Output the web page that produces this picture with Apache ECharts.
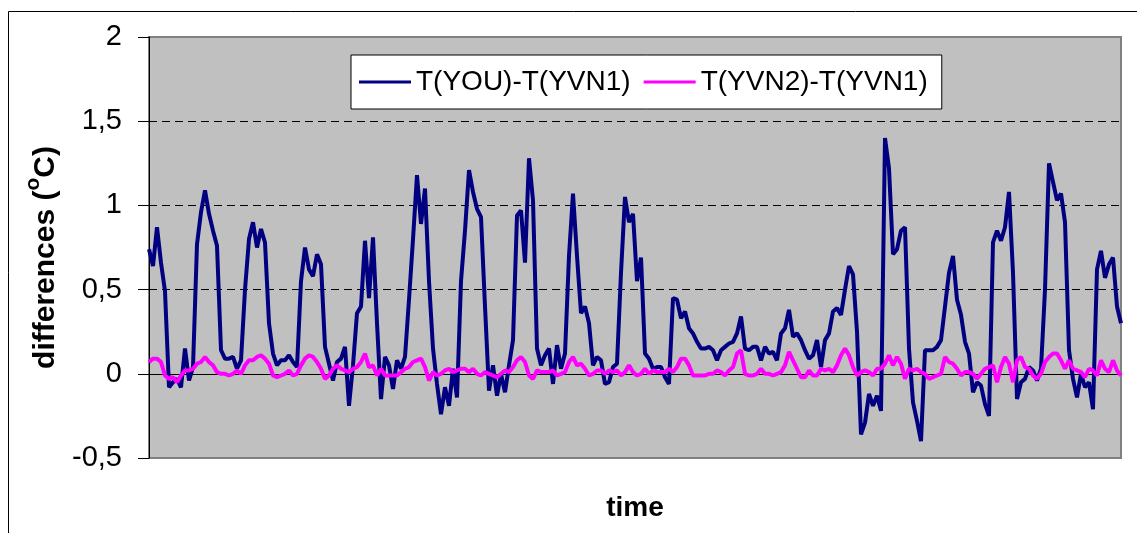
<!DOCTYPE html>
<html>
<head>
<meta charset="utf-8">
<script src="https://cdn.jsdelivr.net/npm/echarts@6/dist/echarts.min.js"></script>
<style>
  html, body { margin: 0; padding: 0; background: #fff; }
  #main { width: 1137px; height: 533px; }
</style>
</head>
<body>
<div id="main"></div>
<script>
// T(YOU)-T(YVN1), sampled along the time axis
var youMinusYvn1 = [
    0.74, 0.64, 0.87, 0.66, 0.49, -0.08, -0.05, -0.03, -0.08, 0.15, -0.04, 0.04, 0.77, 0.96, 1.09, 0.95,
    0.85, 0.76, 0.14, 0.09, 0.09, 0.10, 0.03, 0.08, 0.50, 0.80, 0.90, 0.75, 0.86, 0.78, 0.30,
    0.12, 0.05, 0.08, 0.08, 0.11, 0.07, 0.04, 0.55, 0.75, 0.62, 0.58, 0.71, 0.65, 0.16, 0.06, -0.04,
    0.07, 0.09, 0.16, -0.19, 0.05, 0.36, 0.40, 0.79, 0.45, 0.81, 0.30, -0.15, 0.10, 0.05, -0.09,
    0.08, 0.03, 0.10, 0.44, 0.80, 1.18, 0.89, 1.10, 0.55, 0.15, -0.06, -0.24, -0.08, -0.19, 0.03, -0.14,
    0.55, 0.85, 1.21, 1.08, 0.98, 0.93, 0.40, -0.10, 0.05, -0.13, 0.00, -0.11, 0.05, 0.20, 0.94,
    0.97, 0.66, 1.28, 1.03, 0.15, 0.05, 0.11, 0.15, -0.06, 0.17, 0.03, 0.12, 0.70, 1.07, 0.70, 0.36,
    0.40, 0.30, 0.05, 0.10, 0.08, -0.06, -0.05, 0.04, 0.06, 0.60, 1.05, 0.90, 0.95, 0.55, 0.69, 0.12,
    0.09, 0.03, 0.04, 0.04, -0.02, -0.06, 0.45, 0.44, 0.33, 0.37, 0.27, 0.24, 0.19, 0.15, 0.15, 0.16,
    0.14, 0.08, 0.14, 0.16, 0.18, 0.19, 0.24, 0.34, 0.15, 0.14, 0.16, 0.16, 0.08, 0.16, 0.12,
    0.13, 0.08, 0.24, 0.27, 0.38, 0.22, 0.24, 0.20, 0.14, 0.09, 0.11, 0.20, 0.04, 0.20, 0.24, 0.37,
    0.39, 0.35, 0.50, 0.64, 0.59, 0.25, -0.36, -0.29, -0.12, -0.19, -0.13, -0.22, 1.40, 1.22, 0.71,
    0.74, 0.85, 0.87, 0.15, -0.17, -0.28, -0.40, 0.14, 0.14, 0.14, 0.16, 0.20, 0.40, 0.60, 0.70, 0.44,
    0.35, 0.19, 0.12, -0.11, -0.05, -0.07, -0.18, -0.25, 0.78, 0.85, 0.79, 0.87, 1.08, 0.60, -0.15,
    -0.05, -0.03, 0.04, 0.02, -0.04, 0.03, 0.50, 1.25, 1.14, 1.03, 1.07, 0.90, 0.14, -0.03, -0.14, 0.00,
    -0.08, -0.05, -0.21, 0.62, 0.73, 0.57, 0.65, 0.69, 0.40, 0.30
];

// T(YVN2)-T(YVN1)
var yvn2MinusYvn1 = [
    0.07, 0.09, 0.09, 0.07, -0.01, -0.03, -0.02, -0.05, -0.01, 0.02, 0.02, 0.03, 0.06, 0.07, 0.10, 0.07,
    0.05, 0.01, 0.00, 0.00, -0.01, 0.00, 0.02, 0.00, 0.05, 0.08, 0.08, 0.10, 0.11, 0.09, 0.06,
    -0.01, -0.02, -0.01, 0.00, 0.02, -0.01, 0.00, 0.05, 0.09, 0.11, 0.10, 0.07, 0.03, -0.03, -0.01, 0.03,
    0.05, 0.03, 0.02, 0.01, 0.03, 0.04, 0.07, 0.12, 0.04, 0.05, -0.01, 0.03, -0.01, -0.01, -0.01,
    -0.01, 0.01, 0.03, 0.04, 0.07, 0.08, 0.09, 0.04, -0.04, 0.01, -0.01, 0.00, 0.02, 0.03, 0.01, 0.02,
    0.03, 0.03, 0.01, 0.03, 0.00, -0.01, 0.01, 0.00, -0.01, -0.02, 0.00, 0.02, 0.01, 0.04, 0.08,
    0.10, 0.07, -0.01, -0.03, 0.02, 0.01, 0.01, 0.01, 0.02, -0.01, 0.00, 0.01, 0.07, 0.10, 0.05, 0.06,
    0.03, -0.01, 0.00, 0.02, 0.02, 0.00, 0.02, 0.01, 0.02, -0.01, 0.01, 0.05, 0.01, -0.01, 0.00, 0.03,
    0.00, 0.02, 0.01, 0.01, 0.01, 0.03, 0.01, 0.04, 0.09, 0.09, 0.05, -0.01, -0.01, -0.01, -0.01, 0.00,
    0.00, 0.02, 0.01, -0.01, 0.02, 0.04, 0.12, 0.14, 0.00, -0.01, -0.01, 0.00, 0.03, 0.00, 0.00,
    -0.01, 0.00, 0.01, 0.05, 0.13, 0.08, 0.03, -0.02, -0.02, 0.02, -0.01, -0.01, 0.03, 0.02, 0.03, 0.01,
    0.05, 0.11, 0.15, 0.11, 0.04, -0.01, 0.01, 0.02, 0.01, -0.01, 0.03, 0.03, 0.06, 0.11, 0.05,
    0.10, 0.06, -0.03, 0.03, 0.02, 0.03, 0.01, 0.00, -0.03, -0.02, -0.01, 0.00, 0.10, 0.07, 0.06, 0.03,
    -0.01, 0.01, 0.01, 0.00, -0.03, 0.00, 0.03, 0.04, 0.05, -0.05, 0.04, 0.10, 0.06, -0.05, 0.08,
    0.10, 0.04, 0.03, -0.01, -0.03, 0.00, 0.07, 0.10, 0.12, 0.12, 0.08, 0.03, 0.08, 0.03, 0.02, 0.01,
    -0.02, 0.03, 0.02, -0.01, 0.08, 0.03, 0.01, 0.08, 0.02, -0.01
];

var seriesNames = ['T(YOU)-T(YVN1)', 'T(YVN2)-T(YVN1)'];
var yTicks = [-0.5, 0, 0.5, 1, 1.5, 2];

var timeSteps = [];
for (var i = 0; i < youMinusYvn1.length; i++) {
    timeSteps.push(String(i + 1));
}

var font = '"Liberation Sans", Arial, sans-serif';

var myChart = echarts.init(document.getElementById('main'));
var option = {
    backgroundColor: '#fff',
    animation: false,
    graphic: [{
        type: 'rect',
        shape: { x: 8.5, y: 11.5, width: 1140, height: 540 },
        style: { fill: 'none', stroke: '#000', lineWidth: 1 },
        silent: true
    }],
    legend: {
        data: seriesNames,
        left: 351,
        top: 55,
        orient: 'horizontal',
        icon: 'rect',
        backgroundColor: '#fff',
        borderColor: '#000',
        borderWidth: 1,
        padding: [13, 14, 13, 8],
        itemGap: 13,
        itemWidth: 52,
        itemHeight: 3,
        textStyle: { fontFamily: font, fontSize: 28, color: '#000' }
    },
    grid: {
        left: 149,
        right: 16,
        top: 37,
        bottom: 75,
        containLabel: false,
        outerBoundsMode: 'none',
        show: true,
        backgroundColor: '#C0C0C0',
        borderColor: '#808080',
        borderWidth: 2
    },
    xAxis: {
        type: 'category',
        data: timeSteps,
        boundaryGap: false,
        name: 'time',
        nameLocation: 'middle',
        nameGap: 36,
        nameTextStyle: { fontFamily: font, fontSize: 28, fontWeight: 'bold', color: '#000' },
        axisLine: { onZero: true, lineStyle: { color: '#000', width: 1 } },
        axisTick: { show: false },
        axisLabel: { show: false },
        splitLine: { show: false }
    },
    yAxis: {
        type: 'value',
        min: yTicks[0],
        max: yTicks[yTicks.length - 1],
        interval: 0.5,
        name: '{a|differences (}{s|o}{a|C)}',
        nameLocation: 'middle',
        nameGap: 72,
        nameTextStyle: {
            padding: [0, 20, 0, 0],
            rich: {
                a: { fontFamily: font, fontSize: 30, fontWeight: 'bold', color: '#000', lineHeight: 46 },
                s: { fontFamily: font, fontSize: 21, fontWeight: 'bold', color: '#000', lineHeight: 23, verticalAlign: 'top' }
            }
        },
        axisLine: { show: true, lineStyle: { color: '#000', width: 1 } },
        axisTick: { show: true, inside: false, length: 11, lineStyle: { color: '#000' } },
        axisLabel: {
            margin: 27,
            fontFamily: font,
            fontSize: 29,
            color: '#000',
            formatter: function (v) { return String(v).replace('.', ','); }
        },
        splitLine: {
            show: true,
            lineStyle: {
                color: ['transparent', 'transparent', '#000', '#000', '#000', 'transparent'],
                type: [8, 5],
                width: 1
            }
        }
    },
    series: [
        {
            name: seriesNames[0],
            type: 'line',
            data: youMinusYvn1,
            symbol: 'none',
            lineStyle: { color: '#000080', width: 4 },
            itemStyle: { color: '#000080' },
            z: 3
        },
        {
            name: seriesNames[1],
            type: 'line',
            data: yvn2MinusYvn1,
            symbol: 'none',
            lineStyle: { color: '#FF00FF', width: 4 },
            itemStyle: { color: '#FF00FF' },
            z: 4
        }
    ]
};
myChart.setOption(option);
</script>
</body>
</html>
